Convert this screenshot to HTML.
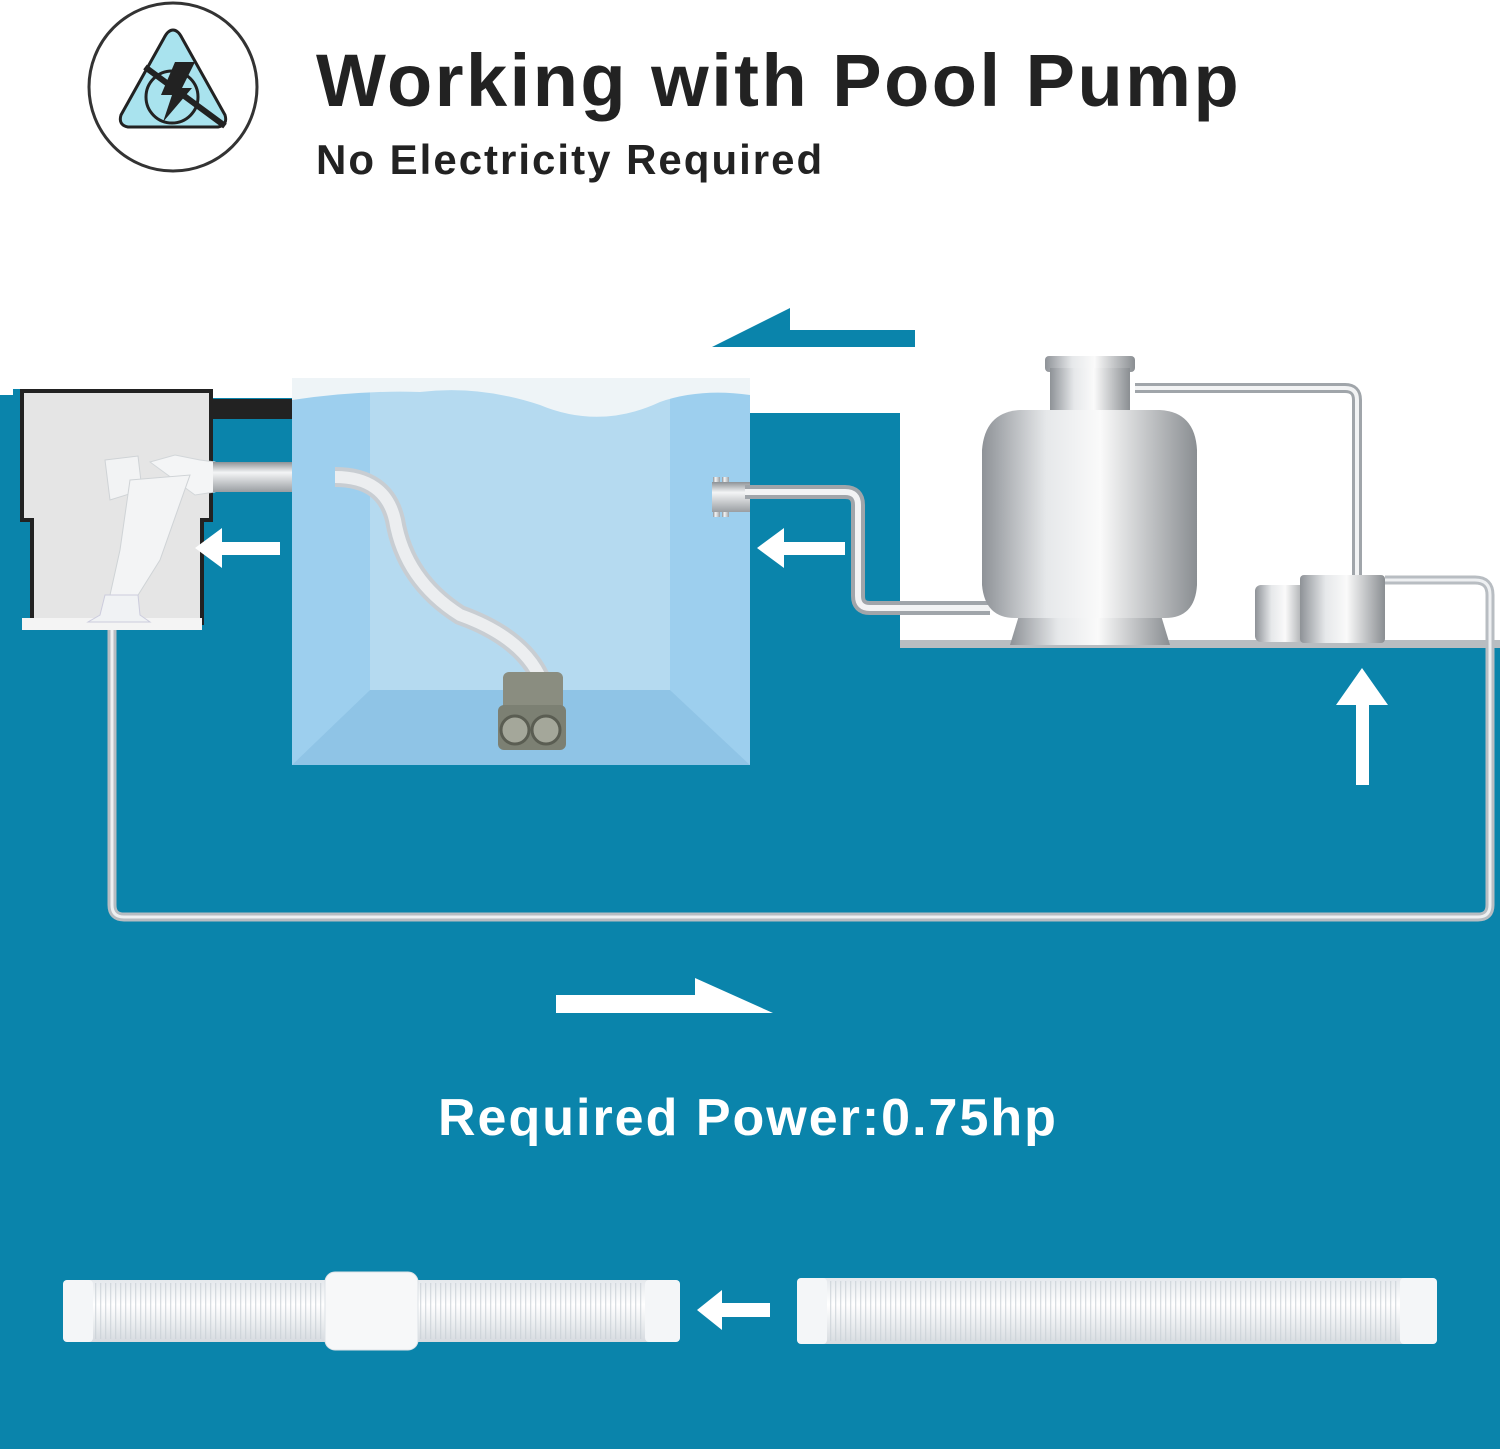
<!DOCTYPE html>
<html><head><meta charset="utf-8">
<style>
html,body{margin:0;padding:0;background:#fff;}
body{width:1500px;height:1449px;position:relative;overflow:hidden;font-family:"Liberation Sans",sans-serif;}
.t{position:absolute;font-weight:bold;white-space:nowrap;}
</style></head><body>
<svg width="1500" height="1449" style="position:absolute;left:0;top:0">
<defs>
<linearGradient id="pipeH" x1="0" y1="0" x2="0" y2="1">
<stop offset="0" stop-color="#8d9296"/><stop offset="0.35" stop-color="#f4f5f6"/><stop offset="1" stop-color="#9a9ea2"/></linearGradient>
<linearGradient id="pipeV" x1="0" y1="0" x2="1" y2="0">
<stop offset="0" stop-color="#8d9296"/><stop offset="0.35" stop-color="#f4f5f6"/><stop offset="1" stop-color="#9a9ea2"/></linearGradient>
<linearGradient id="tank" x1="0" y1="0" x2="1" y2="0">
<stop offset="0" stop-color="#8e9297"/><stop offset="0.3" stop-color="#e6e8ea"/><stop offset="0.55" stop-color="#fafafa"/><stop offset="1" stop-color="#8a8e92"/></linearGradient>
<linearGradient id="hose" x1="0" y1="0" x2="0" y2="1">
<stop offset="0" stop-color="#e4e8ec"/><stop offset="0.4" stop-color="#ffffff"/><stop offset="1" stop-color="#d6dbe0"/></linearGradient>
<pattern id="rib" width="5" height="10" patternUnits="userSpaceOnUse"><rect x="0" width="1.3" height="10" fill="#c9d0d6" opacity="0.7"/></pattern>
</defs>
<!-- teal background -->
<path d="M0 395 H13 V389 H213 V398 H292 V378 H750 V413 H900 V647 H1500 V1449 H0 Z" fill="#0a84ab"/>
<rect x="900" y="640" width="600" height="8" fill="#b8bdc1"/>
<!-- top teal arrow -->
<polygon points="712,347 790,308 790,330 915,330 915,347" fill="#0a84ab"/>
<!-- black band -->
<rect x="210" y="399" width="82" height="20" fill="#222"/>
<!-- skimmer -->
<path d="M20 389 H213 V522 H204 V625 H30 V522 H20 Z" fill="#222"/>
<path d="M24 393 H209 V518 H200 V622 H34 V518 H24 Z" fill="#e5e5e5"/>
<rect x="22" y="618" width="180" height="12" fill="#f4f4f4"/>
<!-- Y fitting -->
<path d="M105 460 L138 456 L142 490 L110 500 Z" fill="#f2f3f4" stroke="#cfd3d6"/>
<path d="M150 462 L175 455 L200 460 L215 462 L215 492 L195 495 Z" fill="#f4f5f6" stroke="#d2d6d9"/>
<path d="M130 480 L190 475 L160 560 L135 600 L110 595 L120 550 Z" fill="#f3f4f5" stroke="#cfd3d6"/>
<path d="M105 595 L138 595 L140 615 L150 622 H88 L100 615 Z" fill="#f0f2f4" stroke="#ccd"/>
<rect x="213" y="462" width="85" height="30" fill="url(#pipeH)"/>
<g fill="url(#pipeV)"><rect x="296" y="457" width="8" height="40"/><rect x="306" y="457" width="8" height="40"/><rect x="316" y="457" width="8" height="40"/></g>
<rect x="296" y="462" width="40" height="30" fill="url(#pipeH)"/>
<!-- left vertical pipe and bottom pipe -->
<path d="M112 630 V905 Q112 917 124 917 H1478 Q1490 917 1490 905 V595 Q1490 580 1475 580 H1385" fill="none" stroke="#b8bdc2" stroke-width="9"/>
<path d="M112 630 V905 Q112 917 124 917 H1478 Q1490 917 1490 905 V595 Q1490 580 1475 580 H1385" fill="none" stroke="#eef0f2" stroke-width="3"/>
<!-- pool -->
<rect x="292" y="378" width="458" height="387" fill="#a9d5f0"/>
<polygon points="292,378 370,378 370,690 292,765" fill="#9dcfee"/>
<polygon points="670,378 750,378 750,765 670,690" fill="#9dcfee"/>
<rect x="370" y="378" width="300" height="312" fill="#b5daf0"/>
<polygon points="370,690 670,690 750,765 292,765" fill="#8fc4e6"/>
<path d="M292 378 H750 V395 Q700 388 660 402 Q600 430 540 405 Q480 385 420 392 Q360 390 292 400 Z" fill="#eef4f7"/>
<!-- hose in pool -->
<path d="M335 477 Q385 477 395 520 Q405 580 460 615 Q530 640 545 690" fill="none" stroke="#c8cdd2" stroke-width="20"/>
<path d="M335 477 Q385 477 395 520 Q405 580 460 615 Q530 640 545 690" fill="none" stroke="#eceef0" stroke-width="12"/>
<!-- robot -->
<rect x="503" y="672" width="60" height="40" rx="6" fill="#8a8d80"/>
<rect x="498" y="705" width="68" height="45" rx="6" fill="#7c8073"/>
<circle cx="515" cy="730" r="14" fill="#a4a79a" stroke="#5a5d52" stroke-width="3"/>
<circle cx="546" cy="730" r="14" fill="#a4a79a" stroke="#5a5d52" stroke-width="3"/>
<!-- right inlet pipe -->
<g fill="url(#pipeV)"><rect x="713" y="477" width="7" height="40"/><rect x="722" y="477" width="7" height="40"/></g>
<rect x="712" y="482" width="38" height="30" fill="url(#pipeH)"/>
<path d="M745 492 H845 Q858 492 858 505 V596 Q858 608 870 608 H990" fill="none" stroke="#a0a5aa" stroke-width="14"/>
<path d="M745 492 H845 Q858 492 858 505 V596 Q858 608 870 608 H990" fill="none" stroke="#f2f3f4" stroke-width="6"/>
<!-- pipe tank to pump -->
<path d="M1135 388 H1345 Q1357 388 1357 400 V585" fill="none" stroke="#a0a5aa" stroke-width="10"/>
<path d="M1135 388 H1345 Q1357 388 1357 400 V585" fill="none" stroke="#f2f3f4" stroke-width="4"/>
<!-- tank -->
<path d="M1010 645 L1020 612 H1160 L1170 645 Z" fill="url(#tank)"/>
<rect x="1045" y="356" width="90" height="16" rx="4" fill="url(#tank)"/>
<rect x="1050" y="368" width="80" height="45" fill="url(#tank)"/>
<path d="M1020 410 Q985 412 982 450 V585 Q985 618 1015 618 H1165 Q1195 618 1197 585 V450 Q1195 412 1160 410 Z" fill="url(#tank)"/>
<!-- pump -->
<rect x="1255" y="585" width="55" height="57" rx="6" fill="url(#tank)"/>
<rect x="1300" y="575" width="85" height="68" rx="4" fill="url(#tank)"/>
<!-- white arrows -->
<polygon points="195,548 222,528 222,542 280,542 280,555 222,555 222,568" fill="#fff"/>
<polygon points="757,548 784,528 784,542 845,542 845,555 784,555 784,568" fill="#fff"/>
<polygon points="1362,668 1388,705 1369,705 1369,785 1356,785 1356,705 1336,705" fill="#fff"/>
<polygon points="556,995 695,995 695,978 773,1013 556,1013" fill="#fff"/>
<polygon points="697,1310 722,1290 722,1303 770,1303 770,1317 722,1317 722,1330" fill="#fff"/>
<!-- hoses -->
<rect x="63" y="1280" width="617" height="62" rx="5" fill="url(#hose)"/>
<rect x="90" y="1283" width="560" height="56" fill="url(#rib)"/>
<rect x="63" y="1280" width="30" height="62" rx="4" fill="#f4f6f8"/>
<rect x="645" y="1280" width="35" height="62" rx="4" fill="#f4f6f8"/>
<rect x="325" y="1272" width="93" height="78" rx="10" fill="#f7f8f9" stroke="#dde2e6"/>
<rect x="797" y="1278" width="640" height="66" rx="5" fill="url(#hose)"/>
<rect x="825" y="1281" width="575" height="60" fill="url(#rib)"/>
<rect x="797" y="1278" width="30" height="66" rx="4" fill="#f4f6f8"/>
<rect x="1400" y="1278" width="37" height="66" rx="4" fill="#f4f6f8"/>
<!-- icon -->
<circle cx="173" cy="87" r="84" fill="#fff" stroke="#333" stroke-width="3"/>
<path d="M173 30 Q178 30 182 38 L225 115 Q228 125 218 127 H128 Q118 125 121 115 L164 38 Q168 30 173 30 Z" fill="#a9e3ee" stroke="#222" stroke-width="3"/>
<circle cx="172" cy="97" r="26" fill="none" stroke="#222" stroke-width="3"/>
<polygon points="175,62 195,62 182,88 192,88 163,122 172,95 161,95" fill="#222"/>
<line x1="145" y1="67" x2="225" y2="126" stroke="#222" stroke-width="6"/>
</svg>
<div class="t" style="left:316px;top:38px;font-size:74px;color:#222;letter-spacing:2.5px">Working with Pool Pump</div>
<div class="t" style="left:316px;top:136px;font-size:42px;color:#222;letter-spacing:2px">No Electricity Required</div>
<div class="t" style="left:438px;top:1088px;font-size:52px;color:#fff;letter-spacing:2px">Required Power:0.75hp</div>
</body></html>
